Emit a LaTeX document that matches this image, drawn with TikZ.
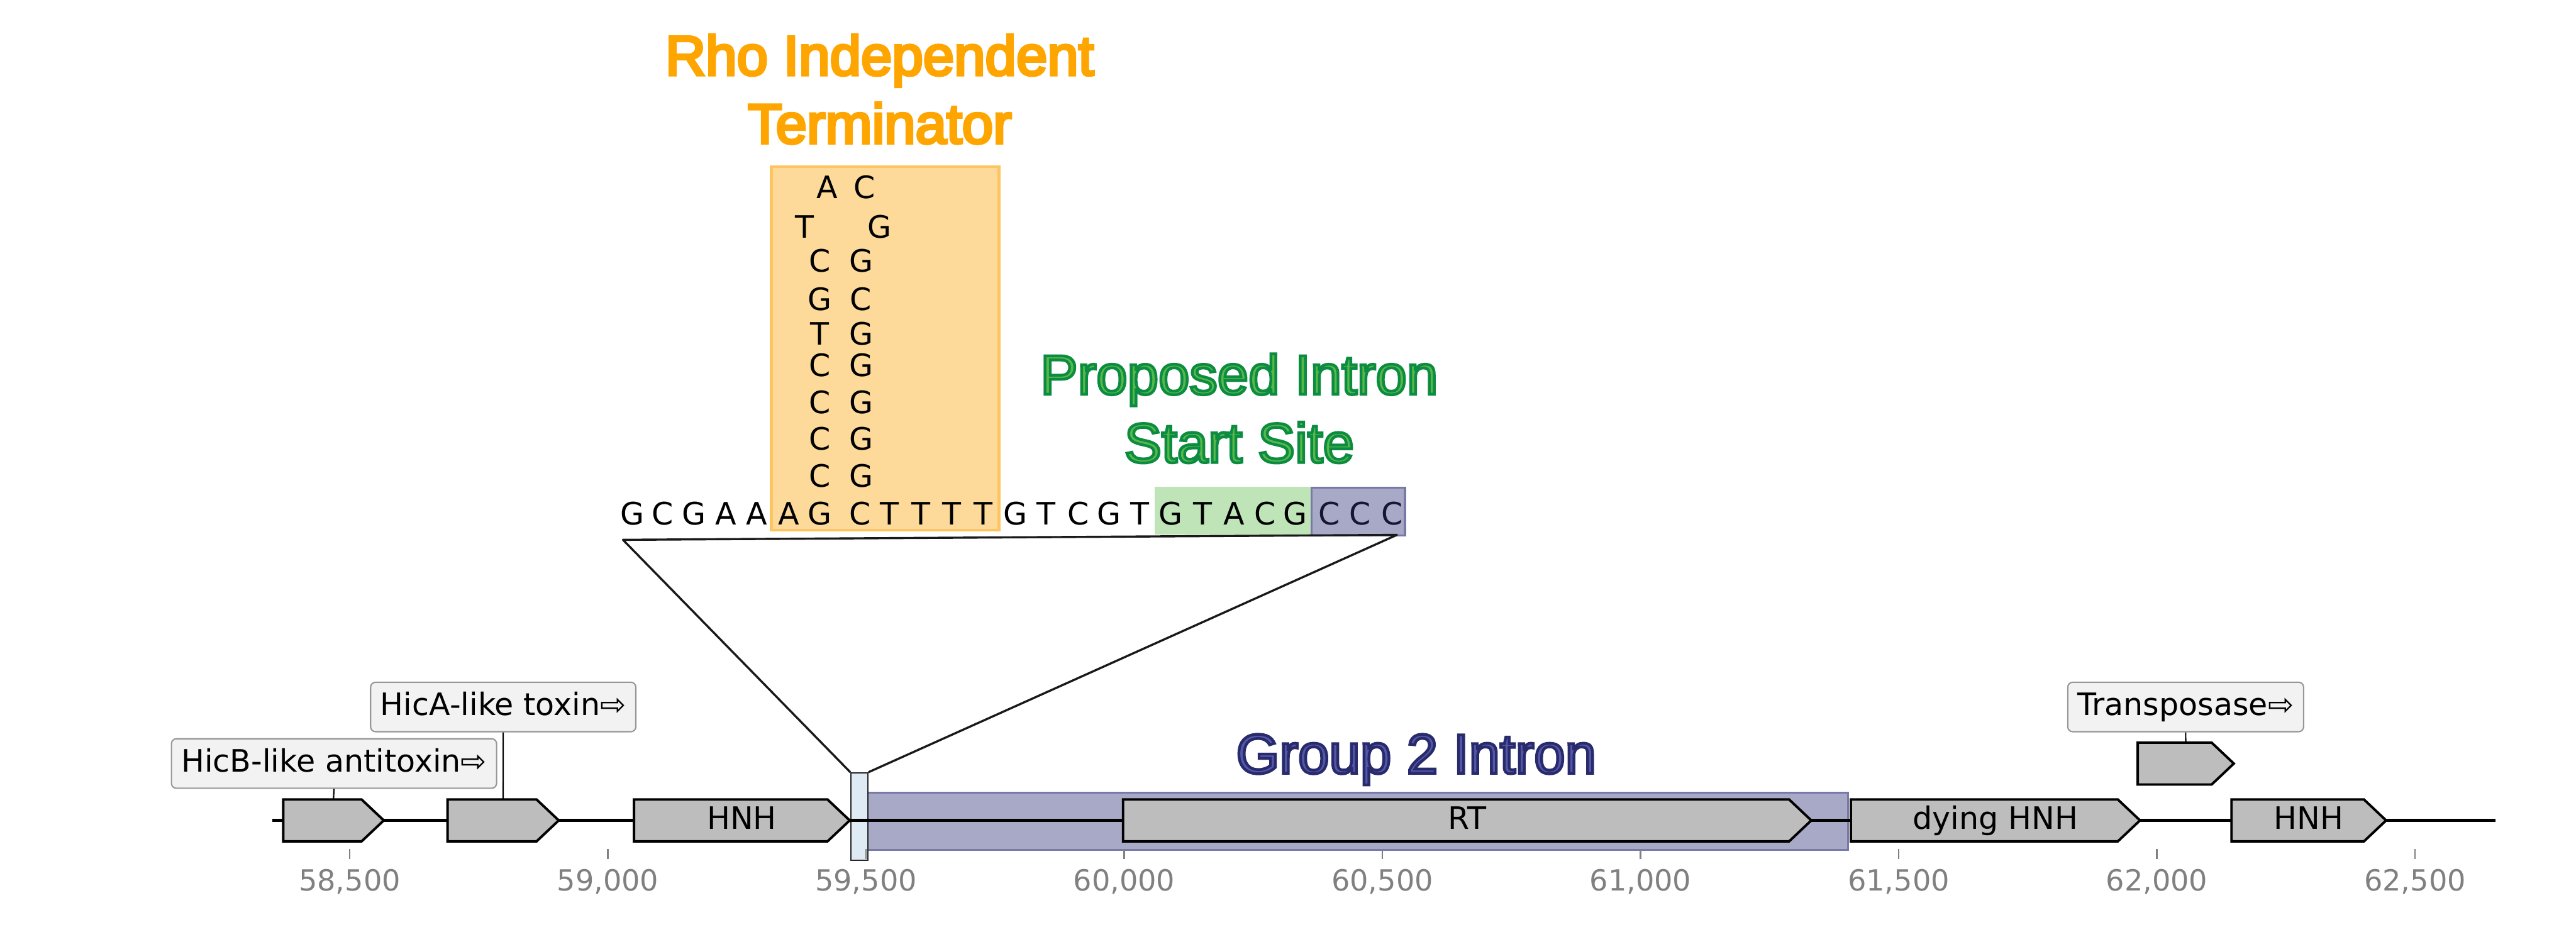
\documentclass[tikz,border=0pt]{standalone}
\usepackage{fontspec}
\setmainfont{DejaVu Sans}
\newfontfamily\titlefont[FakeBold=5]{Liberation Sans}
\usepackage{tikz}

\definecolor{genegray}{RGB}{189,189,189}
\definecolor{tagfill}{RGB}{242,242,242}
\definecolor{tagedge}{RGB}{150,150,150}
\definecolor{intronfill}{RGB}{167,169,198}
\definecolor{intronedge}{RGB}{120,121,166}
\definecolor{cccink}{RGB}{22,22,52}
\definecolor{termfill}{RGB}{253,218,153}
\definecolor{termedge}{RGB}{253,196,95}
\definecolor{startfill}{RGB}{190,228,183}
\definecolor{sitefill}{RGB}{222,234,244}
\definecolor{tickgray}{RGB}{128,128,128}

% fill colour first, outline colour second
\newcommand{\twotone}[3]{\special{pdf:bcolor [#1] [#2]}#3\special{pdf:ecolor}}

\newcommand{\genearrow}[5]{%
  % #1 name, #2 start, #3 end, #4 mid line, #5 text
  \pgfmathsetmacro\tipx{#3-\tip}
  \draw[genebody] (#2,#4-\gh) -- (\tipx,#4-\gh) -- (#3,#4) -- (\tipx,#4+\gh) -- (#2,#4+\gh) -- cycle;
  \node[genetext] (#1) at ({(#2+#3)/2},#4+5.2) {#5};
  \coordinate (#1-top) at ({(#2+#3)/2},#4-\gh);
}

\tikzset{
  genebody/.style={fill=genegray, draw=black, line width=1.5pt},
  genetext/.style={anchor=base, inner sep=0, font=\fontsize{18.8}{22}\selectfont},
  tagbox/.style={anchor=base, draw=tagedge, fill=tagfill, line width=0.8pt, rounded corners=3pt,
    inner xsep=6pt, inner ysep=3pt, text height=17.3pt, text depth=6.8pt, font=\fontsize{18.8}{22}\selectfont},
  leader/.style={draw=black, line width=0.8pt},
  nt/.style={anchor=base, inner sep=0, font=\fontsize{18.8}{22}\selectfont},
  ticklabel/.style={anchor=base, inner sep=0, text=tickgray, font=\fontsize{17.7}{21}\selectfont},
  title/.style={anchor=base, align=center, inner sep=0, font={\titlefont\fontsize{34}{41.5}\selectfont}},
}

\begin{document}
\begin{tikzpicture}[x=1pt, y=-1pt]
  \useasboundingbox (0,0) rectangle (1568,567);
  \def\gy{499.4}  % genome line
  \def\gh{12.75}  % half height of a gene
  \def\tip{13.5}  % length of arrow tip

  % Titles (base = last line)
  \node[title] (rho) at (535.5,87.2)
    {\twotone{1 0.647 0}{1 0.647 0}{Rho Independent}\\\twotone{1 0.647 0}{1 0.647 0}{Terminator}};
  \node[title] (start) at (754.3,281.5)
    {\twotone{0.345 0.725 0.278}{0.047 0.549 0.259}{Proposed Intron}\\\twotone{0.345 0.725 0.278}{0.047 0.549 0.259}{Start Site}};
  \node[title] (group) at (862,470.7)
    {\twotone{0.325 0.345 0.651}{0.157 0.165 0.424}{Group 2 Intron}};

  % Terminator hairpin and sequence boxes
  \fill[termfill, draw=termedge, line width=1.8pt] (469.5,101.5) rectangle (608,322.7);
  \fill[startfill] (702.8,296.4) rectangle (798.3,325.2);
  \fill[intronfill, draw=intronedge, line width=1.2pt] (798.3,297.0) rectangle (855.2,326.1);

  % Hairpin stem
  \foreach \x/\y/\b [count=\i] in {503.5/120.6/A, 526.3/120.6/C, 489.7/145.0/T, 535.5/145.0/G,
      499.1/165.5/C, 524.1/165.5/G, 499.1/189.1/G, 524.1/189.1/C, 499.1/210.1/T, 524.1/210.1/G,
      499.1/229.2/C, 524.1/229.2/G, 499.1/251.6/C, 524.1/251.6/G, 499.1/273.9/C, 524.1/273.9/G,
      499.1/296.5/C, 524.1/296.5/G}
    \node[nt] (stem\i) at (\x,\y) {\b};

  % Sequence row
  \foreach \x/\b [count=\i] in {385.0/G, 403.5/C, 422.3/G, 441.9/A, 460.7/A, 480.3/A, 499.1/G,
      523.5/C, 541.4/T, 560.5/T, 579.5/T, 598.4/T, 618.0/G, 636.8/T, 656.3/C, 675.2/G, 694.0/T,
      712.6/G, 732.0/T, 751.2/A, 770.0/C, 788.5/G}
    \node[nt] (seq\i) at (\x,319.5) {\b};
  \foreach \x [count=\i from 23] in {809.0, 827.8, 847.3}
    \node[nt, text=cccink] (seq\i) at (\x,319.5) {C};

  % Genome map
  \fill[intronfill, draw=intronedge, line width=1.2pt] (527.8,482.4) rectangle (1124.8,517.4);
  \node[fill=sitefill, draw=black!85, line width=0.9pt, minimum width=10.2pt, minimum height=53.3pt,
    inner sep=0] (site) at (523.1,497.15) {};
  \draw[line width=2.2pt] (165.9,\gy) -- (1518.9,\gy);

  \genearrow{hicb}{172.4}{233.6}{\gy}{}
  \genearrow{hica}{272.4}{340.1}{\gy}{}
  \genearrow{hnha}{385.9}{517.2}{\gy}{HNH}
  \genearrow{rt}{683.6}{1102.5}{\gy}{RT}
  \genearrow{dying}{1126.6}{1302.6}{\gy}{dying HNH}
  \genearrow{hnhb}{1358.3}{1452.4}{\gy}{HNH}
  \genearrow{tnp}{1301.2}{1359.7}{464.8}{}

  % Axis ticks (offsets in bp from 59,000)
  \foreach \t/\lab [count=\i] in {-500/{58,500}, 0/{59,000}, 500/{59,500}, 1000/{60,000}, 1500/{60,500},
      2000/{61,000}, 2500/{61,500}, 3000/{62,000}, 3500/{62,500}} {
    \draw[tickgray, line width=1pt] ({370+\t*0.31428},516.9) -- ++(0,6);
    \node[ticklabel] (tick\i) at ({370+\t*0.31428},542.3) {\lab};
  }

  % Gene tags
  \node[tagbox] (hicb-tag) at (203.3,470) {HicB-like antitoxin⇨};
  \node[tagbox] (hica-tag) at (306.3,435.6) {HicA-like toxin⇨};
  \node[tagbox] (tnp-tag) at (1330.4,435.6) {Transposase⇨};
  \draw[leader] (hicb-top) -- (hicb-tag.south);
  \draw[leader] (hica-top) -- (hica-tag.south);
  \draw[leader] (tnp-top) -- (tnp-tag.south);

  % Zoom lines
  \coordinate (zoomL) at (379.2,328.6);
  \coordinate (zoomR) at (850.3,325.6);
  \draw[black!90, line width=1.3pt, line join=round] (site.north west) -- (zoomL) -- (zoomR) -- (site.north east);
\end{tikzpicture}
\end{document}
